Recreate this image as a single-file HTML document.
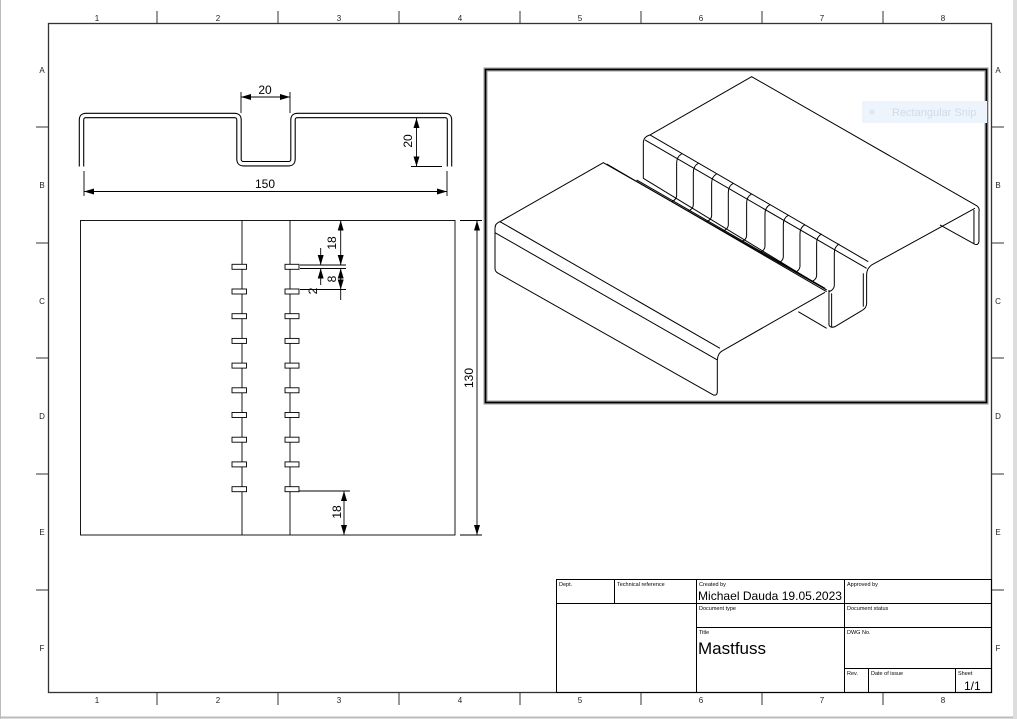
<!DOCTYPE html>
<html><head><meta charset="utf-8"><style>
html,body{margin:0;padding:0;background:#fff;}
svg{display:block;font-family:"Liberation Sans",sans-serif;}
</style></head><body>
<svg width="1017" height="719" viewBox="0 0 1017 719" xmlns="http://www.w3.org/2000/svg">
<defs>
<marker id="a" viewBox="0 0 10 6" refX="10" refY="3" markerWidth="10" markerHeight="6" orient="auto-start-reverse" markerUnits="userSpaceOnUse"><path d="M0,0 L10,3 L0,6 z" fill="#000"/></marker>
</defs>
<rect x="0" y="0" width="1017" height="719" fill="#fff"/>
<line x1="0.5" y1="0" x2="0.5" y2="719" stroke="#bbb" stroke-width="1"/>
<line x1="0" y1="717.5" x2="1017" y2="717.5" stroke="#bbb" stroke-width="2"/>
<rect x="1013" y="0" width="4" height="719" fill="#ddd"/>
<rect x="48.5" y="23.5" width="943" height="669" fill="none" stroke="#333" stroke-width="1.3"/>
<g stroke="#333" stroke-width="1">
<line x1="157" y1="11" x2="157" y2="23"/><line x1="278" y1="11" x2="278" y2="23"/><line x1="399" y1="11" x2="399" y2="23"/><line x1="520" y1="11" x2="520" y2="23"/><line x1="641" y1="11" x2="641" y2="23"/><line x1="762" y1="11" x2="762" y2="23"/><line x1="883" y1="11" x2="883" y2="23"/>
<line x1="157" y1="693" x2="157" y2="705"/><line x1="278" y1="693" x2="278" y2="705"/><line x1="399" y1="693" x2="399" y2="705"/><line x1="520" y1="693" x2="520" y2="705"/><line x1="641" y1="693" x2="641" y2="705"/><line x1="762" y1="693" x2="762" y2="705"/><line x1="883" y1="693" x2="883" y2="705"/>
<line x1="36" y1="127" x2="48" y2="127"/><line x1="36" y1="243" x2="48" y2="243"/><line x1="36" y1="358" x2="48" y2="358"/><line x1="36" y1="474" x2="48" y2="474"/><line x1="36" y1="590" x2="48" y2="590"/>
<line x1="992" y1="127" x2="1004" y2="127"/><line x1="992" y1="243" x2="1004" y2="243"/><line x1="992" y1="358" x2="1004" y2="358"/><line x1="992" y1="474" x2="1004" y2="474"/><line x1="992" y1="590" x2="1004" y2="590"/>
</g>
<g font-size="8" fill="#222" text-anchor="middle">
<text x="97" y="21">1</text><text x="218" y="21">2</text><text x="339" y="21">3</text><text x="460" y="21">4</text><text x="580" y="21">5</text><text x="701" y="21">6</text><text x="822" y="21">7</text><text x="943" y="21">8</text>
<text x="97" y="703">1</text><text x="218" y="703">2</text><text x="339" y="703">3</text><text x="460" y="703">4</text><text x="580" y="703">5</text><text x="701" y="703">6</text><text x="822" y="703">7</text><text x="943" y="703">8</text>
<text x="42" y="73">A</text><text x="42" y="188">B</text><text x="42" y="304">C</text><text x="42" y="419">D</text><text x="42" y="535">E</text><text x="42" y="651">F</text>
<text x="998" y="73">A</text><text x="998" y="188">B</text><text x="998" y="304">C</text><text x="998" y="419">D</text><text x="998" y="535">E</text><text x="998" y="651">F</text>
</g>
<path d="M81.5,166.5 V120 Q81.5,115.5 86,115.5 H234.5 Q239,115.5 239,120 V159 Q239,163.7 243.5,163.7 H288.5 Q293,163.7 293,159 V120 Q293,115.5 297.5,115.5 H445 Q449.5,115.5 449.5,120 V166.5" fill="none" stroke="#000" stroke-width="5.5"/>
<path d="M81.5,166.5 V120 Q81.5,115.5 86,115.5 H234.5 Q239,115.5 239,120 V159 Q239,163.7 243.5,163.7 H288.5 Q293,163.7 293,159 V120 Q293,115.5 297.5,115.5 H445 Q449.5,115.5 449.5,120 V166.5" fill="none" stroke="#fff" stroke-width="3.3"/>
<g stroke="#000" stroke-width="0.9" fill="none">
<line x1="241" y1="92" x2="241" y2="113"/><line x1="290" y1="92" x2="290" y2="113"/>
<line x1="241" y1="97" x2="290" y2="97" marker-start="url(#a)" marker-end="url(#a)"/>
<line x1="84" y1="171" x2="84" y2="196"/><line x1="447" y1="171" x2="447" y2="196"/>
<line x1="84" y1="191.5" x2="447" y2="191.5" marker-start="url(#a)" marker-end="url(#a)"/>
<line x1="411" y1="166.5" x2="442" y2="166.5"/>
<line x1="416.5" y1="118" x2="416.5" y2="166.5" marker-start="url(#a)" marker-end="url(#a)"/>
<rect x="80.5" y="220.5" width="374.5" height="314.5"/>
<line x1="242" y1="220.5" x2="242" y2="535"/><line x1="290" y1="220.5" x2="290" y2="535"/>
<line x1="460" y1="220.5" x2="482" y2="220.5"/><line x1="460" y1="535" x2="482" y2="535"/>
<line x1="477" y1="220.5" x2="477" y2="535" marker-start="url(#a)" marker-end="url(#a)"/>
<line x1="300" y1="265" x2="346" y2="265"/><line x1="300" y1="268.5" x2="346" y2="268.5"/>
<line x1="300" y1="289.5" x2="346" y2="289.5"/>
<line x1="340.7" y1="220.5" x2="340.7" y2="265" marker-start="url(#a)" marker-end="url(#a)"/>
<line x1="340.7" y1="289.5" x2="340.7" y2="300" />
<line x1="340.7" y1="268.5" x2="340.7" y2="289.5" marker-start="url(#a)" marker-end="url(#a)"/>
<line x1="320.7" y1="248" x2="320.7" y2="265" marker-end="url(#a)"/>
<line x1="320.7" y1="285" x2="320.7" y2="268.5" marker-end="url(#a)"/>
<line x1="296" y1="491" x2="350" y2="491"/>
<line x1="344" y1="491" x2="344" y2="535" marker-start="url(#a)" marker-end="url(#a)"/>
</g>
<g fill="#fff" stroke="#000" stroke-width="0.9">
<rect x="232" y="264.3" width="14.5" height="5"/><rect x="285" y="264.3" width="14" height="5"/>
<rect x="232" y="289" width="14.5" height="5"/><rect x="285" y="289" width="14" height="5"/>
<rect x="232" y="313.7" width="14.5" height="5"/><rect x="285" y="313.7" width="14" height="5"/>
<rect x="232" y="338.4" width="14.5" height="5"/><rect x="285" y="338.4" width="14" height="5"/>
<rect x="232" y="363.1" width="14.5" height="5"/><rect x="285" y="363.1" width="14" height="5"/>
<rect x="232" y="387.8" width="14.5" height="5"/><rect x="285" y="387.8" width="14" height="5"/>
<rect x="232" y="412.5" width="14.5" height="5"/><rect x="285" y="412.5" width="14" height="5"/>
<rect x="232" y="437.2" width="14.5" height="5"/><rect x="285" y="437.2" width="14" height="5"/>
<rect x="232" y="461.9" width="14.5" height="5"/><rect x="285" y="461.9" width="14" height="5"/>
<rect x="232" y="486.7" width="14.5" height="5"/><rect x="285" y="486.7" width="14" height="5"/>
</g>
<g font-size="12" fill="#000" text-anchor="middle">
<text x="265" y="94">20</text>
<text x="265" y="188">150</text>
<text transform="translate(412,141) rotate(-90)">20</text>
<text transform="translate(473,378) rotate(-90)">130</text>
<text transform="translate(336,243) rotate(-90)">18</text>
<text transform="translate(336,279) rotate(-90)">8</text>
<text transform="translate(317,291) rotate(-90)">2</text>
<text transform="translate(341,512) rotate(-90)">18</text>
</g>
<rect x="485.5" y="69.5" width="501" height="333" fill="#fff" stroke="#999" stroke-width="4"/>
<rect x="485.5" y="69.5" width="501" height="333" fill="none" stroke="#000" stroke-width="1.6"/>
<rect x="862" y="101" width="125" height="22" fill="#eef4fc"/>
<circle cx="872" cy="112" r="2.5" fill="#dde6f2"/>
<text x="892" y="116" font-size="11" fill="#cfdbea">Rectangular Snip</text>
<g transform="translate(480,60) scale(0.3333)" fill="none" stroke="#000" stroke-width="3" stroke-linejoin="round">
<path d="M45,505 Q45,490 60,485 L370,308 L1040,690"/>
<path d="M45,505 L45,625 Q45,635 55,640 L700,1005 Q712,1008 712,995 L712,905 Q712,880 728,872 L1035,697"/>
<path d="M60,485 L720,865"/>
<path d="M45,518 L712,900"/>
<path d="M380,312 L1040,695"/>
<path d="M955,755 L1040,805"/>
<path d="M490,250 Q490,230 510,225 L815,50 L1490,437 Q1500,445 1497,455 L1497,545 Q1495,556 1485,553 L1380,495"/>
<path d="M1485,445 L1175,615 Q1160,625 1160,645 L1160,730 Q1160,745 1145,752 L1065,800 Q1052,805 1047,795 L1047,690"/>
<path d="M510,225 L1165,605"/>
<path d="M490,250 L490,355 L1040,690"/>
<path d="M495,240 L1160,625"/>
<path d="M1055,700 L1055,800"/>
<path d="M1482,450 L1482,550"/>
<path d="M1150,640 L1150,740"/>
<path d="M470,360 L1035,685"/>
</g>
<g transform="translate(480,60) scale(0.3333)" fill="none" stroke="#000" stroke-width="3">
<path d="M605,282 Q590,290 590,310 L590,408 Q588,420 575,425"/>
<path d="M655,310 Q640,318 640,338 L640,436 Q638,448 625,453"/>
<path d="M710,342 Q695,350 695,370 L695,468 Q693,480 680,485"/>
<path d="M760,370 Q745,378 745,398 L745,496 Q743,508 730,513"/>
<path d="M815,402 Q800,410 800,430 L800,528 Q798,540 785,545"/>
<path d="M870,434 Q855,442 855,462 L855,560 Q853,572 840,577"/>
<path d="M925,466 Q910,474 910,494 L910,592 Q908,604 895,609"/>
<path d="M975,494 Q960,502 960,522 L960,620 Q958,632 945,637"/>
<path d="M1025,522 Q1010,530 1010,550 L1010,648 Q1008,660 995,665"/>
<path d="M1078,552 Q1063,560 1063,580 L1063,678 Q1061,690 1048,695"/>
</g>
<g stroke="#000" stroke-width="1" fill="none">
<rect x="556.5" y="579.5" width="435" height="113"/>
<line x1="556.5" y1="603.5" x2="991.5" y2="603.5"/>
<line x1="696.5" y1="627.5" x2="991.5" y2="627.5"/>
<line x1="844.5" y1="668.5" x2="991.5" y2="668.5"/>
<line x1="614.5" y1="579.5" x2="614.5" y2="603.5"/>
<line x1="696.5" y1="579.5" x2="696.5" y2="692.5"/>
<line x1="844.5" y1="579.5" x2="844.5" y2="692.5"/>
<line x1="868.5" y1="668.5" x2="868.5" y2="692.5"/>
<line x1="955.5" y1="668.5" x2="955.5" y2="692.5"/>
</g>
<g font-size="5.5" fill="#000">
<text x="559" y="586">Dept.</text>
<text x="617" y="586">Technical reference</text>
<text x="699" y="586">Created by</text>
<text x="847" y="586">Approved by</text>
<text x="699" y="610">Document type</text>
<text x="847" y="610">Document status</text>
<text x="699" y="634">Title</text>
<text x="847" y="634">DWG No.</text>
<text x="847" y="675">Rev.</text>
<text x="871" y="675">Date of issue</text>
<text x="958" y="675">Sheet</text>
</g>
<text x="698" y="600" font-size="12" fill="#000" textLength="144" lengthAdjust="spacingAndGlyphs">Michael Dauda  19.05.2023</text>
<text x="698" y="654" font-size="17" fill="#000">Mastfuss</text>
<text x="964" y="690" font-size="12" fill="#000">1/1</text>
</svg>
</body></html>
